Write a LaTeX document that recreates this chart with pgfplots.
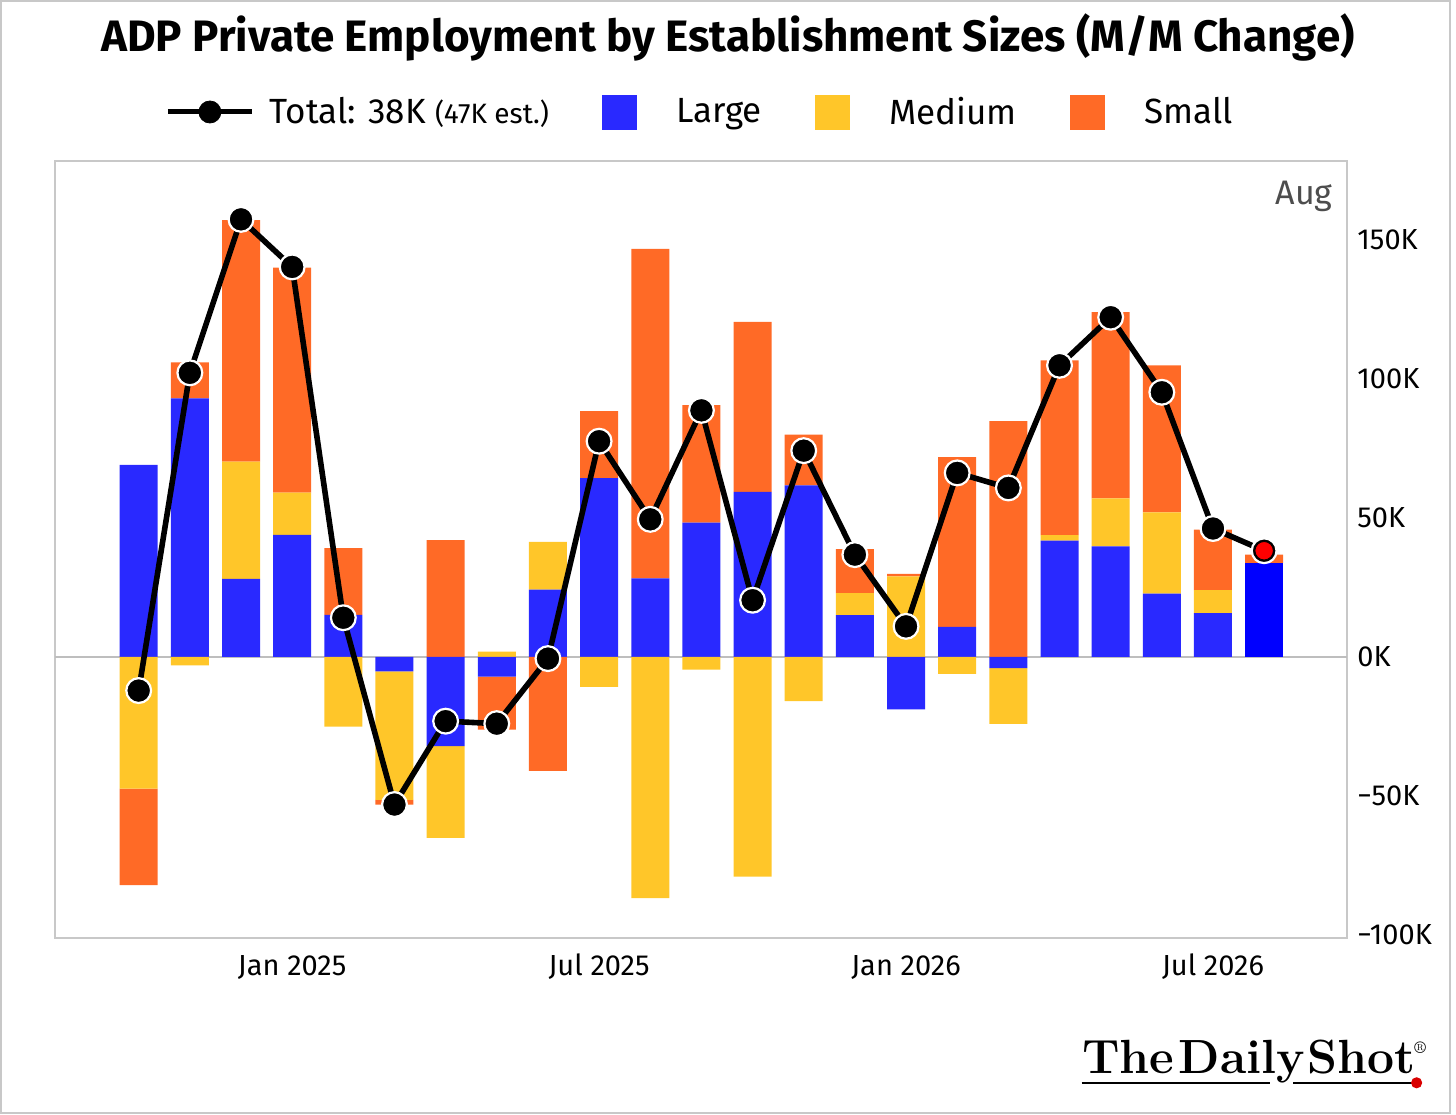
\documentclass[border=0pt]{standalone}
\usepackage{fontspec}
\setmainfont{Fira Sans}
\newfontfamily\logofont{Latin Modern Roman}
\usepackage{pgfplots}
\pgfplotsset{compat=1.18}
\usepackage{pgfplotstable}

\definecolor{cL}{RGB}{41,41,255}
\definecolor{cLlast}{RGB}{0,0,255}
\definecolor{cM}{RGB}{255,198,41}
\definecolor{cS}{RGB}{255,106,38}
\definecolor{framegray}{RGB}{200,200,200}
\definecolor{zerogray}{RGB}{190,190,190}
\definecolor{augtext}{RGB}{77,77,77}

% x: 0 = Oct 2024 ... 22 = Aug 2026 ; values in thousands
% Lp/Mp/Sp: positive parts, Ln/Mn/Sn: negative parts, Lq: latest month (Large)
\pgfplotstableread{
x  Lp    Lq    Mp    Sp     Ln     Mn     Sn     T
0  69.1  0     0     0      0      -47.4  -34.7  -12.1
1  93.0  0     0     13.0   0      -3.0   0      102.2
2  28.1  0     42.2  86.8   0      0      0      157.4
3  43.9  0     15.2  80.9   0      0      0      140.3
4  15.1  0     0     24.0   0      -25.1  0      14.1
5  0     0     0     0      -5.2   -46.2  -1.7   -53.1
6  0     0     0     42.0   -32.1  -33.0  0      -23.1
7  0     0     1.9   0      -7.1   0      -19.0  -24.0
8  24.2  0     17.2  0      0      0      -41.0  -0.6
9  64.3  0     0     24.1   0      -10.8  0      77.6
10 28.3  0     0     118.5  0      -86.8  0      49.5
11 48.3  0     0     42.3   0      -4.6   0      88.7
12 59.4  0     0     61.1   0      -79.0  0      20.4
13 61.7  0     0     18.3   0      -15.9  0      74.2
14 15.0  0     8.0   15.8   0      0      0      36.8
15 0     0     29.0  0.9    -18.9  0      0      11.0
16 10.8  0     0     61.1   0      -6.1   0      66.2
17 0     0     0     84.8   -4.0   -20.1  0      60.8
18 41.8  0     2.0   62.9   0      0      0      104.9
19 39.8  0     17.2  67.0   0      0      0      122.2
20 22.8  0     29.2  52.9   0      0      0      95.2
21 15.8  0     8.2   21.8   0      0      0      46.2
22 0     33.8  0     3.0    0      0      0      38.2
}\data

\pgfplotsset{
  common/.style={
    at={(27.5pt,88pt)}, anchor=south west,
    width=646pt, height=388.5pt, scale only axis,
    xmin=-1.636, xmax=23.62, ymin=-101.1, ymax=178.4,
  },
}

\begin{document}
\begin{tikzpicture}
\path[use as bounding box] (0pt,0pt) rectangle (728pt,557pt);
\draw[framegray, line width=1pt] (0.5pt,0.5pt) rectangle (725pt,556.5pt);

% title
\node[anchor=base, font=\bfseries\fontsize{22}{26}\selectfont, inner sep=0pt]
  at (364pt,531.2pt) {ADP Private Employment by Establishment Sizes (M/M Change)};

% positive stack + frame
\begin{axis}[common,
  ybar stacked, bar width=19pt,
  axis line style={draw=framegray, line width=1pt},
  major tick length=0pt,
  xtick={3,9,15,21},
  xticklabels={Jan 2025,Jul 2025,Jan 2026,Jul 2026},
  xticklabel style={anchor=base, inner sep=0pt, yshift=-18.5pt, font=\fontsize{14.5}{17}\selectfont},
  ytick={-100,-50,0,50,100,150},
  yticklabels={−100K,−50K,0K,50K,100K,150K},
  yticklabel pos=right,
  yticklabel style={anchor=west, inner sep=0pt, xshift=5pt, font=\fontsize{14.5}{17}\selectfont},
  extra y ticks={0}, extra y tick labels={},
  extra y tick style={grid=major, major grid style={draw=zerogray, line width=1pt}},
]
\addplot[fill=cL, draw=none] table[x=x,y=Lp]{\data};
\addplot[fill=cLlast, draw=none] table[x=x,y=Lq]{\data};
\addplot[fill=cM, draw=none] table[x=x,y=Mp]{\data};
\addplot[fill=cS, draw=none] table[x=x,y=Sp]{\data};
\node[anchor=base east, inner sep=0pt, text=augtext, font=\fontsize{17}{20}\selectfont]
  at (rel axis cs:1,1) [xshift=-7pt, yshift=-22pt] {Aug};
\end{axis}

% negative stack
\begin{axis}[common, hide axis, ybar stacked, bar width=19pt]
\addplot[fill=cL, draw=none] table[x=x,y=Ln]{\data};
\addplot[fill=cM, draw=none] table[x=x,y=Mn]{\data};
\addplot[fill=cS, draw=none] table[x=x,y=Sn]{\data};
\end{axis}

% total line + legend
\begin{axis}[common, hide axis, clip=false,
  legend columns=4,
  legend style={at={(0.5,1)}, anchor=center, yshift=24.5pt, xshift=-1pt,
    draw=none, fill=none, inner sep=0pt,
    nodes={inner sep=0pt},
    font=\fontsize{17.5}{20}\selectfont,
    column sep=7.5pt,
    /tikz/every even column/.append style={column sep=26.5pt},
    /tikz/column 2/.append style={column sep=21.5pt}},
  legend cell align=left,
]
\addplot[black, line width=2.8pt, line join=round, mark=*, mark size=6.2pt,
  mark options={fill=black, draw=white, line width=1.1pt}, forget plot]
  table[x=x,y=T]{\data};
\addplot[only marks, mark=*, mark size=4.6pt,
  mark options={fill=red, draw=none}, forget plot]
  coordinates {(22,38.2)};
\addlegendimage{legend image code/.code={
  \draw[black, line width=2.5pt] (0pt,0pt) -- (42pt,0pt);
  \fill[black] (21pt,0pt) circle (5.5pt);}}
\addlegendentry{Total: 38K {\fontsize{14}{16}\selectfont (47K est.)}}
\addlegendimage{legend image code/.code={
  \fill[cL] (0pt,-8.5pt) rectangle (17pt,8.5pt); \path[draw=none] (17pt,0pt) -- (29.5pt,0pt);}}
\addlegendentry{Large}
\addlegendimage{legend image code/.code={
  \fill[cM] (0pt,-8.5pt) rectangle (17pt,8.5pt); \path[draw=none] (17pt,0pt) -- (29.5pt,0pt);}}
\addlegendentry{Medium}
\addlegendimage{legend image code/.code={
  \fill[cS] (0pt,-8.5pt) rectangle (17pt,8.5pt); \path[draw=none] (17pt,0pt) -- (29.5pt,0pt);}}
\addlegendentry{Small}
\end{axis}

% logo
\node[anchor=base west, inner sep=0pt, font=\logofont\bfseries\fontsize{24}{27}\selectfont]
  at (540.8pt,20.5pt) {The\hspace{0.1em}Daily\hspace{0.05em}Shot};
\node[anchor=north west, inner sep=0pt, font=\logofont\fontsize{8.5}{10}\selectfont]
  at (707pt,36.5pt) {®};
\draw[black, line width=1.3pt] (540.8pt,15.6pt) -- (635pt,15.6pt);
\draw[black, line width=1.3pt] (646.5pt,15.6pt) -- (707.5pt,15.6pt);
\fill[red!85!black] (708.3pt,15.6pt) circle (2.8pt);
\end{tikzpicture}
\end{document}
